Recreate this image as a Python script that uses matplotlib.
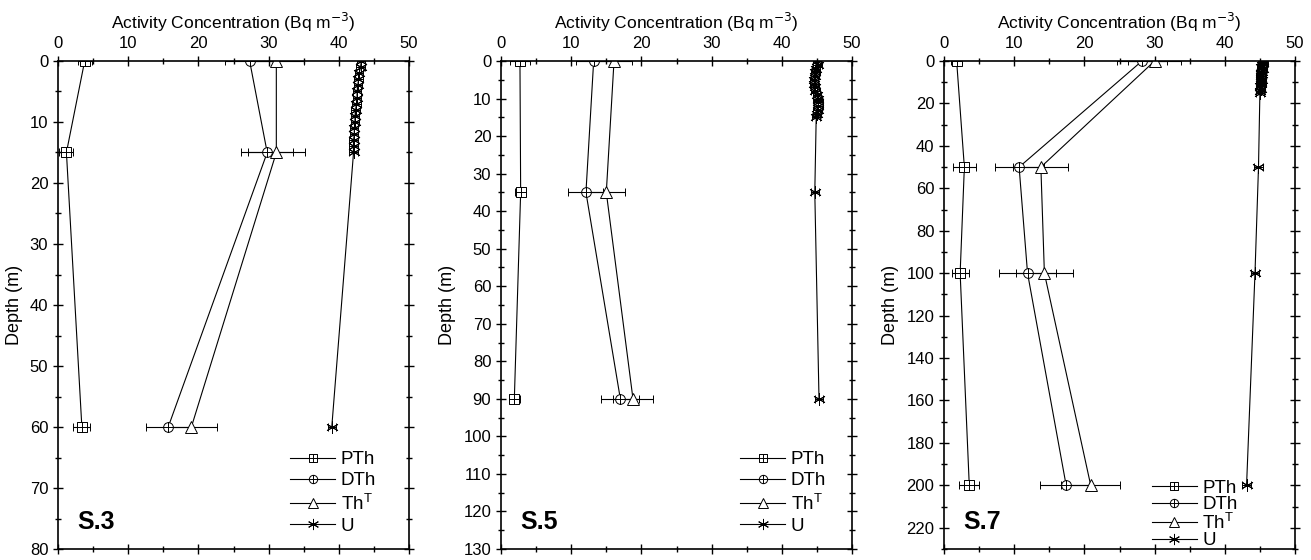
import numpy as np
import matplotlib.pyplot as plt
from matplotlib.ticker import MultipleLocator
from matplotlib.path import Path
from matplotlib.lines import Line2D

plt.rcParams['font.family'] = ['Liberation Sans', 'DejaVu Sans']

# ---- data (Bq m^-3) ----
# station S.3
s3_depth = [0, 15, 60]
s3_pth = [3.8, 1.2, 3.4]
s3_pth_err = [1.0, 1.0, 1.2]
s3_dth = [27.3, 29.8, 15.7]
s3_dth_err = [3.5, 3.7, 3.1]
s3_tht = [31.1, 31.1, 19.0]
s3_tht_err = [4.0, 4.1, 3.7]
s3_u_depth = list(range(16)) + [60]
s3_u = [43.2, 43.1, 42.9, 42.8, 42.7, 42.6, 42.6, 42.5, 42.4, 42.3, 42.3,
        42.2, 42.2, 42.1, 42.1, 42.1, 39.0]

# station S.5
s5_depth = [0, 35, 90]
s5_pth = [2.7, 2.8, 1.9]
s5_pth_err = [1.4, 0.8, 0.8]
s5_dth = [13.2, 12.1, 17.0]
s5_dth_err = [2.5, 2.5, 2.7]
s5_tht = [16.1, 15.0, 18.8]
s5_tht_err = [2.6, 2.6, 2.9]
s5_u_depth = list(range(16)) + [35, 90]
s5_u = [45.0, 45.1, 44.9, 44.8, 44.7, 44.6, 44.6, 44.7, 44.8, 45.0, 45.1,
        45.2, 45.2, 45.1, 45.0, 44.9, 44.7, 45.3]

# station S.7
s7_depth = [0, 50, 100, 200]
s7_pth = [1.8, 2.9, 2.3, 3.6]
s7_pth_err = [0.8, 1.6, 1.2, 1.4]
s7_dth = [28.2, 10.7, 11.9, 17.4]
s7_dth_err = [3.5, 3.5, 4.0, 3.7]
s7_tht = [30.0, 13.8, 14.3, 20.9]
s7_tht_err = [3.8, 3.9, 4.1, 4.2]
s7_u_depth = list(range(16)) + [50, 100, 200]
s7_u = [45.4, 45.5, 45.3, 45.2, 45.4, 45.3, 45.2, 45.1, 45.2, 45.3, 45.2,
        45.1, 45.0, 45.1, 45.0, 45.0, 44.8, 44.3, 43.1]

u_err = 0.6

stations = [
    ('S.3', s3_depth, s3_pth, s3_pth_err, s3_dth, s3_dth_err, s3_tht, s3_tht_err,
     s3_u_depth, s3_u, 80, 10, 5),
    ('S.5', s5_depth, s5_pth, s5_pth_err, s5_dth, s5_dth_err, s5_tht, s5_tht_err,
     s5_u_depth, s5_u, 130, 10, 5),
    ('S.7', s7_depth, s7_pth, s7_pth_err, s7_dth, s7_dth_err, s7_tht, s7_tht_err,
     s7_u_depth, s7_u, 230, 20, 10),
]

# marker shapes: square with cross, circle with cross
cross = Path([(0, -1), (0, 1), (-1, 0), (1, 0)],
             [Path.MOVETO, Path.LINETO, Path.MOVETO, Path.LINETO])
box = Path([(-1, -1), (1, -1), (1, 1), (-1, 1), (-1, -1)],
           [Path.MOVETO, Path.LINETO, Path.LINETO, Path.LINETO, Path.CLOSEPOLY])
box_plus = Path.make_compound_path(box, cross)
circle_plus = Path.make_compound_path(Path.unit_circle(), cross)

lefts = [58 / 1311, 501 / 1311, 944 / 1311]
leg_pos = [(0.955, -0.005), (0.975, -0.005), (0.885, -0.035)]
leg_space = [0.2, 0.2, -0.05]

fig = plt.figure(figsize=(13.11, 5.6), dpi=100)

for i, st in enumerate(stations):
    (name, depth, pth, pth_e, dth, dth_e, tht, tht_e,
     u_depth, u, ymax, ymaj, ymin) = st
    ax = fig.add_axes([lefts[i], 11 / 560, 351 / 1311, 488 / 560])

    common = dict(color='black', lw=0.8, elinewidth=0.8, capsize=3,
                  capthick=0.8, mfc='white', mec='black', mew=0.7)
    ax.errorbar(pth, depth, xerr=pth_e, marker=box_plus, ms=7, **common)
    ax.errorbar(dth, depth, xerr=dth_e, marker=circle_plus, ms=7, **common)
    ax.errorbar(tht, depth, xerr=tht_e, marker='^', ms=8, **common)
    ax.errorbar(u, u_depth, xerr=u_err, marker=(6, 2, 0), ms=9, **common)

    ax.set_xlim(0, 50)
    ax.set_ylim(ymax, 0)
    ax.xaxis.set_major_locator(MultipleLocator(10))
    ax.xaxis.set_minor_locator(MultipleLocator(5))
    ax.yaxis.set_major_locator(MultipleLocator(ymaj))
    ax.yaxis.set_minor_locator(MultipleLocator(ymin))
    ax.tick_params(which='both', top=True, bottom=True, left=True, right=True,
                   labeltop=True, labelbottom=False, direction='inout',
                   labelsize=12, width=1)
    ax.tick_params(which='major', length=7)
    ax.tick_params(which='minor', length=4)
    for sp in ax.spines.values():
        sp.set_linewidth(1.2)

    ax.xaxis.set_label_position('top')
    ax.set_xlabel('Activity Concentration (Bq m$^{-3}$)', fontsize=12.5,
                  labelpad=5)
    ax.set_ylabel('Depth (m)', fontsize=13, labelpad=5)

    ax.text(0.055, 0.03, name, transform=ax.transAxes, fontsize=18,
            fontweight='bold', ha='left', va='bottom')

    mk = dict(color='black', lw=0.8, mfc='white', mec='black', mew=0.7)
    handles = [Line2D([], [], marker=box_plus, ms=6, **mk),
               Line2D([], [], marker=circle_plus, ms=6, **mk),
               Line2D([], [], marker='^', ms=7, **mk),
               Line2D([], [], marker=(6, 2, 0), ms=8, **mk)]
    labels = ['PTh', 'DTh', 'Th$^\\mathregular{T}$', 'U']
    ax.legend(handles, labels, loc='lower right', bbox_to_anchor=leg_pos[i],
              frameon=False, fontsize=13.5, handlelength=2.4,
              handletextpad=0.3, labelspacing=leg_space[i])

fig.savefig('out.png', dpi=100)
